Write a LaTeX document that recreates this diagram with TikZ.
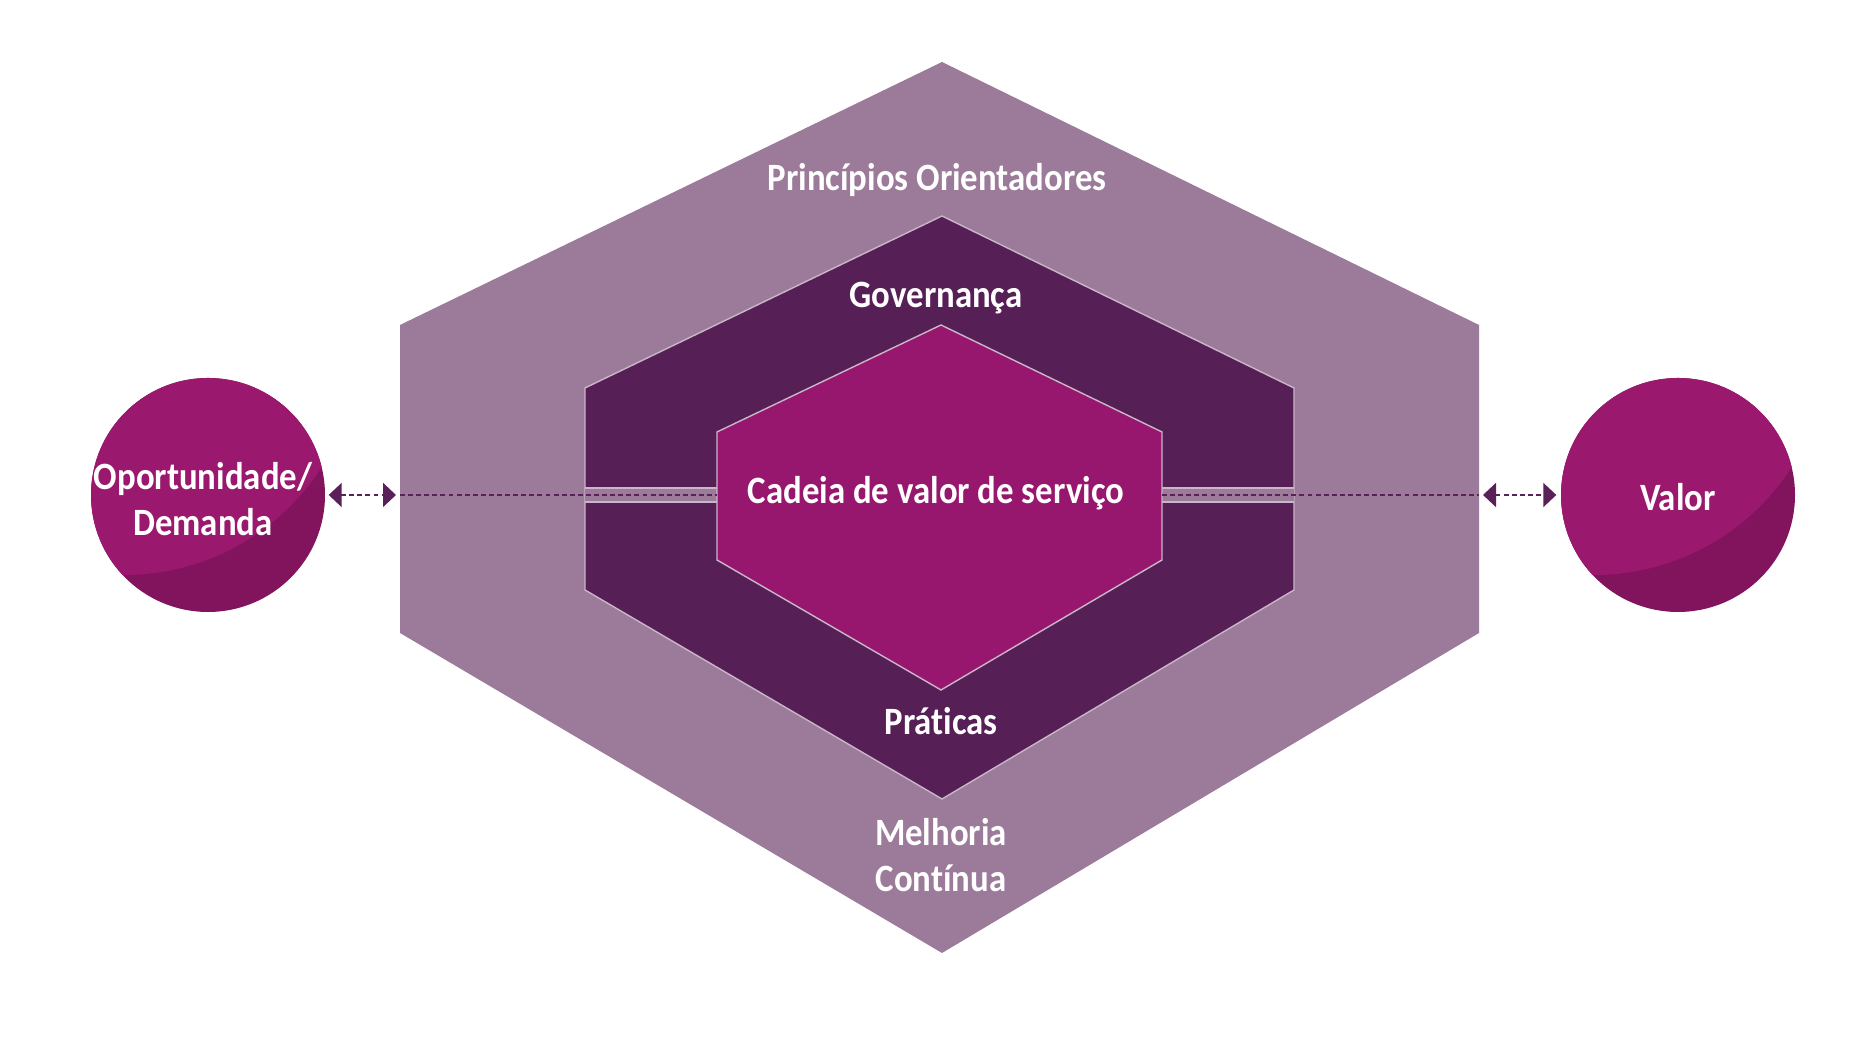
\documentclass[tikz,border=0pt]{standalone}
\usepackage{fontspec}
\setmainfont{Carlito}[FakeStretch=0.9, Ligatures={NoCommon}]
\usetikzlibrary{arrows.meta}
\definecolor{outerhex}{HTML}{9C7B9A}
\definecolor{darkhex}{HTML}{561F56}
\definecolor{innerhex}{HTML}{97176E}
\definecolor{edgeline}{HTML}{C9B6C8}
\definecolor{circlight}{HTML}{9A196E}
\definecolor{circdark}{HTML}{82135D}
\definecolor{arrowpurple}{HTML}{5A2058}

\begin{document}
\begin{tikzpicture}[
  txt/.style={text=white, font=\bfseries\fontsize{11}{13}\selectfont, align=center, inner sep=0pt},
  ball/.style={circle, minimum size=2.34cm, inner sep=0pt, fill=circdark,
    path picture={\fill[circlight] ([shift={(-0.84,1.55)}]path picture bounding box.center) circle (2.35);}},
  dashline/.style={arrowpurple, line width=0.55pt, dash pattern=on 1.4pt off 0.9pt},
  biarr/.style={dashline, {Triangle[length=1.3mm,width=2.4mm]}-{Triangle[length=1.3mm,width=2.4mm]}}
]
  \useasboundingbox (0,0) rectangle (18.73,10.37);

  % hexagons
  \fill[outerhex] (9.42,9.75) -- (14.79,7.12) -- (14.79,4.04) -- (9.42,0.84) -- (4.00,4.04) -- (4.00,7.12) -- cycle;
  \filldraw[fill=darkhex, draw=edgeline, line width=0.4pt] (9.42,8.21) -- (12.94,6.49) -- (12.94,4.47) -- (9.42,2.38) -- (5.85,4.47) -- (5.85,6.49) -- cycle;
  \fill[outerhex] (5.85,5.35) rectangle (12.94,5.49);
  \draw[edgeline, line width=0.4pt] (5.85,5.49) -- (12.94,5.49) (5.85,5.35) -- (12.94,5.35);
  \filldraw[fill=innerhex, draw=edgeline, line width=0.4pt] (9.41,7.12) -- (11.62,6.05) -- (11.62,4.77) -- (9.41,3.47) -- (7.17,4.77) -- (7.17,6.05) -- cycle;

  \coordinate (hexW) at (4.00,5.42);
  \coordinate (hexE) at (14.79,5.42);
  \coordinate (coreW) at (7.17,5.42);
  \coordinate (coreE) at (11.62,5.42);

  \draw[dashline] (hexW) -- (coreW);
  \draw[dashline] (coreE) -- (hexE);

  % labels
  \node[txt] (principios) at (9.37,8.57) {Princípios Orientadores};
  \node[txt] (governanca) at (9.36,7.39) {Governança};
  \node[txt] (cadeia) at (9.36,5.44) {Cadeia de valor de serviço};
  \node[txt] (praticas) at (9.41,3.16) {Práticas};
  \node[txt] (melhoria) at (9.41,1.82) {Melhoria\\Contínua};

  % circles
  \node[ball] (opp) at (2.08,5.42) {};
  \node[ball] (val) at (16.78,5.42) {};
  \node[txt] (opptxt) at (2.03,5.38) {Oportunidade/\\Demanda};
  \node[txt] (valtxt) at (16.78,5.40) {Valor};

  \draw[biarr, shorten <=0.03cm, shorten >=0.04cm] (opp.east) -- (hexW);
  \draw[biarr, shorten <=0.04cm, shorten >=0.04cm] (hexE) -- (val.west);
\end{tikzpicture}
\end{document}
